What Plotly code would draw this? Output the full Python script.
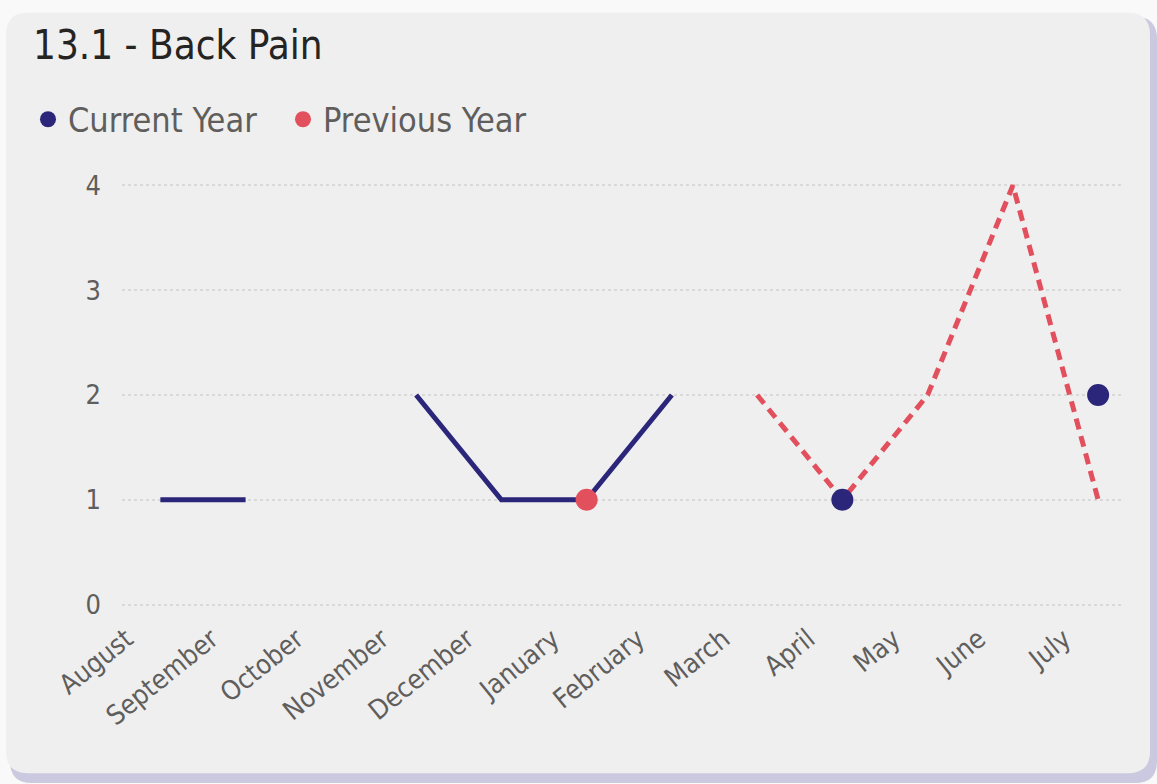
import plotly.graph_objects as go

months = ["August", "September", "October", "November", "December", "January",
          "February", "March", "April", "May", "June", "July"]
current_year = [1, 1, None, 2, 1, 1, 2, None, 1, None, None, 2]
previous_year = [None, None, None, None, None, 1, None, 2, 1, 2, 4, 1]
y_ticks = [0, 1, 2, 3, 4]

NAVY = "#2B2679"
RED = "#E24F5D"
W, H = 1157, 784
FONT = "DejaVu Sans Condensed, Roboto, sans-serif"


def isolated(vals):
    out = []
    for i, v in enumerate(vals):
        if v is None:
            out.append(None)
            continue
        left = vals[i - 1] if i > 0 else None
        right = vals[i + 1] if i < len(vals) - 1 else None
        out.append(v if left is None and right is None else None)
    return out


fig = go.Figure()

fig.add_trace(go.Scatter(x=months, y=current_year, mode="lines",
                         line=dict(color=NAVY, width=5), showlegend=False,
                         connectgaps=False))
fig.add_trace(go.Scatter(x=months, y=previous_year, mode="lines",
                         line=dict(color=RED, width=5, dash="11px,7px"),
                         showlegend=False, connectgaps=False))
fig.add_trace(go.Scatter(x=months, y=isolated(previous_year), mode="markers",
                         marker=dict(color=RED, size=22), showlegend=False,
                         cliponaxis=False))
fig.add_trace(go.Scatter(x=months, y=isolated(current_year), mode="markers",
                         marker=dict(color=NAVY, size=22), showlegend=False,
                         cliponaxis=False))
fig.add_trace(go.Scatter(x=[None], y=[None], mode="markers", name="Current Year",
                         marker=dict(color=NAVY, size=22)))
fig.add_trace(go.Scatter(x=[None], y=[None], mode="markers", name="Previous Year",
                         marker=dict(color=RED, size=22)))

plot_l, plot_r = 122, 1122
plot_t, plot_b = 174.5, 615.5


def px_to_paper_x(px):
    return (px - plot_l) / (plot_r - plot_l)


def px_to_paper_y(py):
    return (plot_b - py) / (plot_b - plot_t)


def rr_paper(x0, y0, x1, y1, r):
    rx = r / (plot_r - plot_l)
    ry = r / (plot_b - plot_t)
    X0, X1 = px_to_paper_x(x0), px_to_paper_x(x1)
    Yt, Yb = px_to_paper_y(y0), px_to_paper_y(y1)
    return (f"M {X0 + rx},{Yt} L {X1 - rx},{Yt} Q {X1},{Yt} {X1},{Yt - ry} "
            f"L {X1},{Yb + ry} Q {X1},{Yb} {X1 - rx},{Yb} L {X0 + rx},{Yb} "
            f"Q {X0},{Yb} {X0},{Yb + ry} L {X0},{Yt - ry} Q {X0},{Yt} {X0 + rx},{Yt} Z")


shapes = [
    dict(type="path", xref="paper", yref="paper", layer="below",
         path=rr_paper(10, 16, 1157, 784, 22), fillcolor="#CBC9DF",
         line=dict(width=0)),
    dict(type="path", xref="paper", yref="paper", layer="below",
         path=rr_paper(6, 12, 1150, 774, 22), fillcolor="#EFEFEF",
         line=dict(width=0)),
]

fig.update_layout(
    width=W, height=H,
    margin=dict(l=plot_l, r=W - plot_r, t=plot_t, b=H - plot_b, autoexpand=False),
    paper_bgcolor="#F9F9FA",
    plot_bgcolor="rgba(0,0,0,0)",
    shapes=shapes,
    title=dict(text="13.1 - Back Pain", x=33 / W, xanchor="left",
               y=1 - 45 / H, yanchor="middle",
               font=dict(family=FONT, size=40, color="#252423")),
    legend=dict(orientation="h", x=(28 - plot_l) / (plot_r - plot_l), xanchor="left",
                y=px_to_paper_y(119), yanchor="middle",
                font=dict(family=FONT, size=34, color="#605E5C"),
                bgcolor="rgba(0,0,0,0)", itemwidth=30, tracegroupgap=0,
                entrywidth=210),
    showlegend=True,
    font=dict(family=FONT, color="#605E5C"),
)

fig.update_xaxes(type="category", categoryorder="array", categoryarray=months,
                 range=[-0.45, 11.28], showgrid=False, zeroline=False,
                 showline=False, ticks="", tickangle=-39,
                 ticklabelshift=-34, ticklabelstandoff=2,
                 tickfont=dict(family=FONT, size=27, color="#605E5C"))
fig.update_yaxes(range=[-0.1, 4.1], tickvals=y_ticks, showgrid=True,
                 gridcolor="#D9D9D9", gridwidth=2, griddash="dot",
                 zeroline=False, showline=False, ticks="",
                 ticklabelstandoff=20,
                 tickfont=dict(family=FONT, size=27, color="#605E5C"))

fig.write_html("out.html")
